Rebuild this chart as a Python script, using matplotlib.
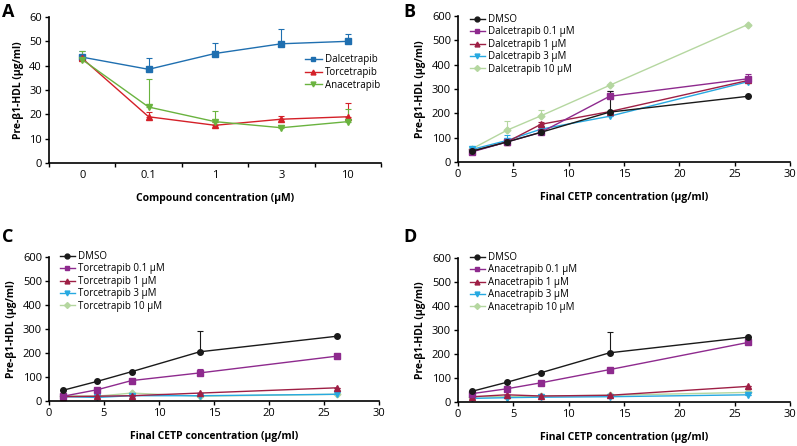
import matplotlib
matplotlib.use("Agg")
import matplotlib.pyplot as plt
from matplotlib.lines import Line2D
import numpy as np

plt.rcParams['font.family'] = ['Open Sans', 'DejaVu Sans']

# Panel A data
a_categories = ["0", "0.1", "1", "3", "10"]
a_dal = [43.5, 38.5, 45, 49, 50]
a_dal_err = [2.5, 4.5, 4.5, 6.0, 3.0]
a_tor = [43, 19, 15.5, 18, 19]
a_tor_err = [1.0, 2.0, 1.5, 1.5, 5.5]
a_ana = [42.5, 23, 17, 14.5, 17]
a_ana_err = [3.5, 11.5, 4.5, 1.0, 5.0]

# Panels B-D
cetp = [1.3, 4.4, 7.5, 13.7, 26.2]
dmso = [45, 82, 122, 205, 270]
dmso_err = [0, 0, 0, 88, 0]

b_01 = [42, 82, 122, 270, 342]
b_01_err = [0, 0, 0, 20, 20]
b_1 = [45, 82, 155, 207, 335]
b_1_err = [0, 0, 8, 0, 0]
b_3 = [52, 88, 135, 188, 330]
b_3_err = [0, 22, 0, 0, 0]
b_10 = [55, 130, 190, 315, 565]
b_10_err = [0, 38, 22, 0, 0]

c_01 = [20, 47, 85, 117, 187]
c_01_err = [0, 0, 0, 18, 0]
c_1 = [18, 20, 22, 33, 55]
c_3 = [18, 15, 22, 22, 28]
c_10 = [22, 20, 33, 20, 28]

d_01 = [35, 55, 80, 135, 248]
d_1 = [22, 30, 25, 28, 65]
d_3 = [15, 18, 20, 22, 30]
d_10 = [22, 22, 25, 28, 40]

W, H = 797, 446
fig = plt.figure(figsize=(W / 100, H / 100), dpi=100)

def add_ax(l, r, t, b):
    return fig.add_axes([l / W, 1 - b / H, (r - l) / W, (b - t) / H])

def style(ax):
    for s in ['top', 'right']:
        ax.spines[s].set_visible(False)
    for s in ['left', 'bottom']:
        ax.spines[s].set_linewidth(1.2)
    ax.tick_params(direction='out', length=3, width=1, labelsize=8, pad=2)

lab_kw = dict(fontsize=7.5, fontweight='bold')

def fig_legend(ax, handles, labels, left, top, fs, hl, ls):
    ax.legend(handles, labels, loc='upper left',
              bbox_to_anchor=(left / W, 1 - top / H), bbox_transform=fig.transFigure,
              frameon=False, fontsize=fs, handlelength=hl, handletextpad=0.35,
              labelspacing=ls, borderaxespad=0, borderpad=0)

# ---- Panel A ----
axA = add_ax(49, 381, 17, 163)
style(axA)
xa = np.arange(len(a_categories))
colsA = ['#1f6fb0', '#d42028', '#6ab33f']
hA = []
labsA = ['Dalcetrapib', 'Torcetrapib', 'Anacetrapib']
for y, e, c, m, lab in [(a_dal, a_dal_err, colsA[0], 's', labsA[0]),
                        (a_tor, a_tor_err, colsA[1], '^', labsA[1]),
                        (a_ana, a_ana_err, colsA[2], 'v', labsA[2])]:
    axA.errorbar(xa, y, yerr=[np.zeros(len(e)), e], color=c, marker=m, ms=4,
                 lw=1, capsize=2.5, elinewidth=0.8, capthick=0.8)
    hA.append(Line2D([], [], color=c, marker=m, ms=3.5, lw=1))
axA.set_xlim(-0.5, 4.5)
axA.set_ylim(0, 60)
axA.set_yticks(range(0, 61, 10))
axA.set_xticks(np.arange(-0.5, 4.6, 1.0))
axA.set_xticklabels([])
axA.set_xticks(xa, minor=True)
axA.set_xticklabels(a_categories, minor=True)
axA.tick_params(axis='x', which='minor', length=0, labelsize=8, pad=5)
axA.set_xlabel('Compound concentration (μM)', labelpad=9, **lab_kw)
axA.set_ylabel('Pre-β1-HDL (μg/ml)', labelpad=4, **lab_kw)
fig_legend(axA, hA, labsA, 305, 54, 7, 1.7, 0.2)
fig.text(2 / W, 1 - 12 / H, 'A', fontsize=13, fontweight='bold', va='center')

cols = ['#1a1a1a', '#8e2a8e', '#9e1f45', '#27a9e1', '#b5d7a0']
marks = ['o', 's', '^', 'v', 'D']

def panel(ax, name, series, errs, letter, lx, ly, leg_left, leg_top):
    style(ax)
    labels = ['DMSO', f'{name} 0.1 μM', f'{name} 1 μM', f'{name} 3 μM', f'{name} 10 μM']
    order = [4, 3, 2, 1, 0]
    for i in order:
        y = series[i]
        e = errs[i] if errs[i] is not None else [0] * len(y)
        ax.errorbar(cetp, y, yerr=[np.zeros(len(e)), e], color=cols[i], marker=marks[i],
                    ms=4 if i != 4 else 3.5, lw=1, capsize=2.5, elinewidth=0.8,
                    capthick=0.8)
    handles = [Line2D([], [], color=cols[i], marker=marks[i], ms=3.5 if i != 4 else 3,
                      lw=1) for i in range(5)]
    ax.set_xlim(0, 30)
    ax.set_ylim(0, 600)
    ax.set_xticks(range(0, 31, 5))
    ax.set_yticks(range(0, 601, 100))
    ax.set_xlabel('Final CETP concentration (μg/ml)', labelpad=9, **lab_kw)
    ax.set_ylabel('Pre-β1-HDL (μg/ml)', labelpad=4, **lab_kw)
    fig_legend(ax, handles, labels, leg_left, leg_top, 7, 1.5, 0.15)
    fig.text(lx / W, 1 - ly / H, letter, fontsize=13, fontweight='bold', va='center')

axB = add_ax(458, 790, 16, 162)
panel(axB, 'Dalcetrapib', [dmso, b_01, b_1, b_3, b_10],
      [dmso_err, b_01_err, b_1_err, b_3_err, b_10_err], 'B', 403, 12, 470, 14)

axC = add_ax(49, 379, 257, 401)
panel(axC, 'Torcetrapib', [dmso, c_01, c_1, c_3, c_10],
      [dmso_err, c_01_err, None, None, None], 'C', 2, 237, 60, 251)

axD = add_ax(458, 790, 258, 402)
panel(axD, 'Anacetrapib', [dmso, d_01, d_1, d_3, d_10],
      [dmso_err, None, None, None, None], 'D', 403, 237, 470, 252)

fig.savefig('out.png', dpi=100)
